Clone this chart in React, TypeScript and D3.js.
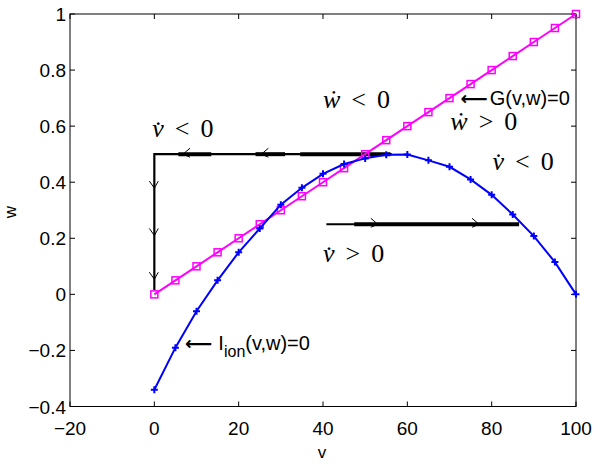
import React from "react";
import * as d3 from "d3";

// nullcline samples (v every 5)
const vSamples = [0, 5, 10, 15, 20, 25, 30, 35, 40, 45, 50, 55, 60, 65, 70, 75, 80, 85, 90, 95, 100];
const ionW = [-0.34, -0.19, -0.06, 0.05, 0.15, 0.235, 0.32, 0.38, 0.43, 0.465, 0.485, 0.498, 0.499, 0.478, 0.455, 0.41, 0.355, 0.285, 0.208, 0.115, 0.0];
const gW = [0, 0.05, 0.1, 0.15, 0.2, 0.25, 0.3, 0.35, 0.4, 0.45, 0.5, 0.55, 0.6, 0.65, 0.7, 0.75, 0.8, 0.85, 0.9, 0.95, 1.0];

// trajectories
const upperPath: [number, number][] = [[56.3, 0.5], [0, 0.5], [0, 0.015]];
const lowerPath: [number, number][] = [[40.8, 0.25], [86.5, 0.25]];
// heavier stretches of the trajectory (v from, v to, w)
const thickParts: [number, number, number][] = [[5.7, 13.5, 0.5], [24, 31, 0.5], [34.6, 56, 0.5], [47.4, 86.5, 0.25]];
const leftArrows: [number, number][] = [[6.8, 0.5], [25.4, 0.5], [50.3, 0.5]];
const downArrows: [number, number][] = [[0, 0.379], [0, 0.21], [0, 0.054]];
const rightArrows: [number, number][] = [[53, 0.25], [77, 0.25]];

const xTicks = [-20, 0, 20, 40, 60, 80, 100];
const yTicks = [-0.4, -0.2, 0, 0.2, 0.4, 0.6, 0.8, 1];

const W = 600;
const H = 466;

export default function App() {
  const x = d3.scaleLinear().domain([-20, 100]).range([70, 576]);
  const y = d3.scaleLinear().domain([-0.4, 1]).range([406.5, 14]);
  const line = d3
    .line<[number, number]>()
    .x((d) => x(d[0]))
    .y((d) => y(d[1]));

  const ionPts = vSamples.map((v, i) => [v, ionW[i]] as [number, number]);
  const gPts = vSamples.map((v, i) => [v, gW[i]] as [number, number]);

  const sans = "'Liberation Sans', Arial, sans-serif";
  const serif = "'Liberation Serif', 'DejaVu Serif', serif";
  const tk = 5;

  const math = (t1: string, rel: string, v: number, w: number) => (
    <text x={x(v)} y={y(w)} fontFamily={serif} fontSize={26} fill="#000">
      <tspan fontStyle="italic">{t1}</tspan>
      <tspan dx={11}>{rel}</tspan>
      <tspan dx={11}>0</tspan>
    </text>
  );

  return (
    <svg width={W} height={H} style={{ position: "absolute", left: 0, top: 0, background: "#fff" }}>
      {/* axes box */}
      <rect x={70} y={14} width={506} height={392.5} fill="none" stroke="#000" strokeWidth={1} />
      {xTicks.map((t) => (
        <g key={"x" + t}>
          <line x1={x(t)} x2={x(t)} y1={406.5} y2={406.5 - tk} stroke="#000" />
          <line x1={x(t)} x2={x(t)} y1={14} y2={14 + tk} stroke="#000" />
          <text x={x(t)} y={435} textAnchor="middle" fontFamily={sans} fontSize={19}>
            {d3.format("")(t)}
          </text>
        </g>
      ))}
      {yTicks.map((t) => (
        <g key={"y" + t}>
          <line x1={70} x2={70 + tk} y1={y(t)} y2={y(t)} stroke="#000" />
          <line x1={576} x2={576 - tk} y1={y(t)} y2={y(t)} stroke="#000" />
          <text x={66} y={y(t) + 7} textAnchor="end" fontFamily={sans} fontSize={19}>
            {d3.format("")(+t.toFixed(1))}
          </text>
        </g>
      ))}
      <text x={322} y={458} textAnchor="middle" fontFamily={sans} fontSize={17}>v</text>
      <text transform="translate(16,212) rotate(-90)" textAnchor="middle" fontFamily={sans} fontSize={17}>w</text>

      {/* trajectories */}
      <path d={line(upperPath) ?? ""} fill="none" stroke="#000" strokeWidth={2.2} />
      <path d={line(lowerPath) ?? ""} fill="none" stroke="#000" strokeWidth={2.2} />
      {thickParts.map((s, i) => (
        <line key={"t" + i} x1={x(s[0])} x2={x(s[1])} y1={y(s[2])} y2={y(s[2])} stroke="#000" strokeWidth={4} />
      ))}
      {leftArrows.map((p, i) => (
        <path key={"l" + i} d={`M${x(p[0]) + 7},${y(p[1]) - 6}L${x(p[0])},${y(p[1])}L${x(p[0]) + 7},${y(p[1]) + 3}`} fill="none" stroke="#000" strokeWidth={1} />
      ))}
      {rightArrows.map((p, i) => (
        <path key={"r" + i} d={`M${x(p[0]) - 7},${y(p[1]) - 6}L${x(p[0])},${y(p[1])}L${x(p[0]) - 7},${y(p[1]) + 3}`} fill="none" stroke="#000" strokeWidth={1} />
      ))}
      {downArrows.map((p, i) => (
        <path key={"d" + i} d={`M${x(p[0]) - 5},${y(p[1]) - 7}L${x(p[0])},${y(p[1])}L${x(p[0]) + 4},${y(p[1]) - 7}`} fill="none" stroke="#000" strokeWidth={1} />
      ))}

      {/* G nullcline */}
      <path d={line(gPts) ?? ""} fill="none" stroke="#ff00ff" strokeWidth={2} />
      {gPts.map((p, i) => (
        <rect key={"g" + i} x={x(p[0]) - 3.5} y={y(p[1]) - 3.5} width={7} height={7} fill="none" stroke="#ff00ff" strokeWidth={1.5} />
      ))}

      {/* I_ion nullcline */}
      <path d={line(ionPts) ?? ""} fill="none" stroke="#0000ff" strokeWidth={2} />
      {ionPts.map((p, i) => (
        <path key={"i" + i} d={`M${x(p[0]) - 3.5},${y(p[1])}h7M${x(p[0])},${y(p[1]) - 3.5}v7`} stroke="#0000ff" strokeWidth={2} />
      ))}

      {/* annotations */}
      {math("v\u0307", "<", -0.5, 0.56)}
      {math("w\u0307", "<", 40, 0.664)}
      {math("w\u0307", ">", 70.2, 0.588)}
      {math("v\u0307", "<", 80.2, 0.443)}
      {math("v\u0307", ">", 40, 0.114)}
      <text x={x(72.6)} y={y(0.676)} fontFamily={sans} fontSize={20}>
        <tspan fontFamily="'DejaVu Sans', sans-serif" fontSize={19} fontWeight="bold">{"\u27F5"}</tspan>
        <tspan dx={2}>G(v,w)=0</tspan>
      </text>
      <text x={x(7.3)} y={y(-0.2)} fontFamily={sans} fontSize={20}>
        <tspan fontFamily="'DejaVu Sans', sans-serif" fontSize={19} fontWeight="bold">{"\u27F5"}</tspan>
        <tspan dx={6}>I</tspan>
        <tspan fontSize={16} dy={7}>ion</tspan>
        <tspan dy={-7}>(v,w)=0</tspan>
      </text>
    </svg>
  );
}
